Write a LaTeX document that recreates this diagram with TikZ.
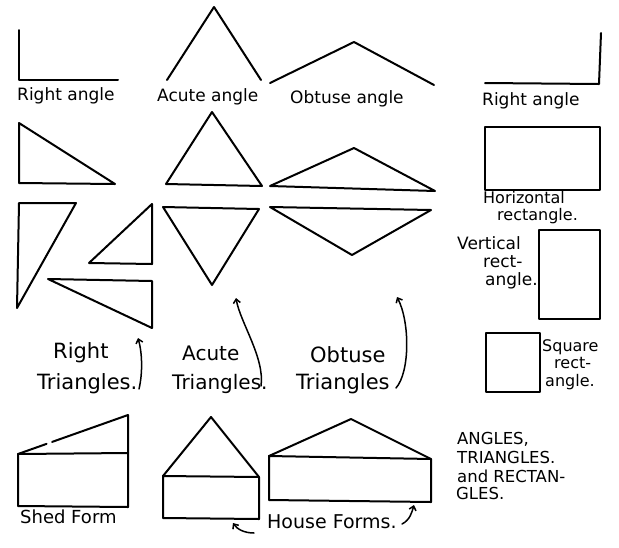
\documentclass[tikz,border=0pt]{standalone}
\usepackage{fontspec}
\setmainfont{DejaVu Sans}
\usetikzlibrary{arrows.meta,calc}
\begin{document}
\begin{tikzpicture}[x=1pt,y=-1pt,
  fig/.style={line width=2pt, line join=round, line cap=round},
  lbl/.style={anchor=base west, inner sep=0pt, font=\fontsize{17}{20}\selectfont},
  sml/.style={anchor=base west, inner sep=0pt, font=\fontsize{16}{18}\selectfont},
  big/.style={anchor=base west, inner sep=0pt, font=\fontsize{21}{24}\selectfont},
  caps/.style={anchor=base west, inner sep=0pt, font=\fontsize{16.5}{19}\selectfont},
  ptr/.style={line width=1.5pt, line cap=round, -{Straight Barb[length=4pt,width=7pt]}}]
\useasboundingbox (0,0) rectangle (619,547);
\fill[white] (0,0) rectangle (619,547);
% row 1: angles
\draw[fig] (19,30) -- (19,80) -- (118,80);
\draw[fig] (167,80) -- (214,7) -- (261,80);
\draw[fig] (270,83) -- (354,42) -- (434,85);
\draw[fig] (485,83) -- (599,84) -- (601,33);
\node[lbl] (ra1) at (17,100) {Right angle};
\node[lbl] (aa) at (157,101) {Acute angle};
\node[lbl] (oa) at (290,103) {Obtuse angle};
\node[lbl] (ra2) at (482,105) {Right angle};
% row 2: triangles and rectangle
\draw[fig] (19,123) -- (19,183) -- (115,184) -- cycle;
\draw[fig] (212,112) -- (166,184) -- (262,186) -- cycle;
\draw[fig] (270,186) -- (354,148) -- (435,191) -- cycle;
\draw[fig] (485,127) rectangle (600,190);
\node[sml] (hr1) at (483,203) {Horizontal};
\node[sml] (hr2) at (497,220) {rectangle.};
% row 3
\draw[fig] (19,203) -- (76,203) -- (17,308) -- cycle;
\draw[fig] (89,263) -- (152,204) -- (152,264) -- cycle;
\draw[fig] (48,279) -- (152,281) -- (152,328) -- cycle;
\draw[fig] (163,207) -- (259,209) -- (212,285) -- cycle;
\draw[fig] (270,207) -- (431,210) -- (352,255) -- cycle;
\draw[fig] (539,230) rectangle (600,319);
\node[lbl] (vr1) at (457,249) {Vertical};
\node[lbl] (vr2) at (483,267) {rect-};
\node[lbl] (vr3) at (485,285) {angle.};
\draw[fig] (486,333) rectangle (540,392);
\node[sml] (sq1) at (542,351) {Square};
\node[sml] (sq2) at (554,368) {rect-};
\node[sml] (sq3) at (545,386) {angle.};
% triangle labels
\node[big] (rt1) at (53,358) {Right};
\node[big] (rt2) at (37,389) {Triangles.};
\node[big, font=\fontsize{20}{24}\selectfont] (at1) at (182,360) {Acute};
\node[big, font=\fontsize{20}{24}\selectfont] (at2) at (172,389) {Triangles.};
\node[big] (ot1) at (310,362) {Obtuse};
\node[big] (ot2) at (296,389) {Triangles};
\coordinate (rtA) at (139,389);
\coordinate (rtB) at (138,338);
\coordinate (atA) at (261,386);
\coordinate (atB) at (236,298);
\coordinate (otA) at (396,388);
\coordinate (otB) at (397,297);
\draw[ptr] (rtA) .. controls (143,372) and (142,352) .. (rtB);
\draw[ptr] (atA) .. controls (265,358) and (240,322) .. (atB);
\draw[ptr] (otA) .. controls (410,372) and (410,322) .. (otB);
% bottom row: shed and house forms
\draw[fig] (18,454) -- (128,453);
\draw[fig] (18,454) -- (18,506) -- (128,507) -- (128,415);
\draw[fig] (18,454) -- ($(18,454)!0.26!(128,415)$);
\draw[fig] ($(18,454)!0.31!(128,415)$) -- (128,415);
\node[lbl, font=\fontsize{18}{20}\selectfont] (sf) at (20,523) {Shed Form};
\draw[fig] (163,476) -- (259,477) -- (259,519) -- (163,518) -- cycle;
\draw[fig] (163,476) -- (211,417) -- (259,477);
\draw[fig] (269,456) -- (431,459) -- (431,502) -- (269,500) -- cycle;
\draw[fig] (269,456) -- (351,419) -- (431,459);
\node[lbl, font=\fontsize{19}{22}\selectfont] (hf) at (267,528) {House Forms.};
\coordinate (hfA) at (254,533);
\coordinate (hfB) at (233,523);
\coordinate (hfC) at (402,524);
\coordinate (hfD) at (414,505);
\draw[ptr] (hfA) .. controls (244,533) and (237,529) .. (hfB);
\draw[ptr] (hfC) .. controls (410,520) and (412,512) .. (hfD);
% title block
\node[caps] (t1) at (457,444) {ANGLES,};
\node[caps] (t2) at (457,463) {TRIANGLES.};
\node[caps] (t3) at (457,482) {and RECTAN-};
\node[caps] (t4) at (456,499) {GLES.};
\end{tikzpicture}
\end{document}
